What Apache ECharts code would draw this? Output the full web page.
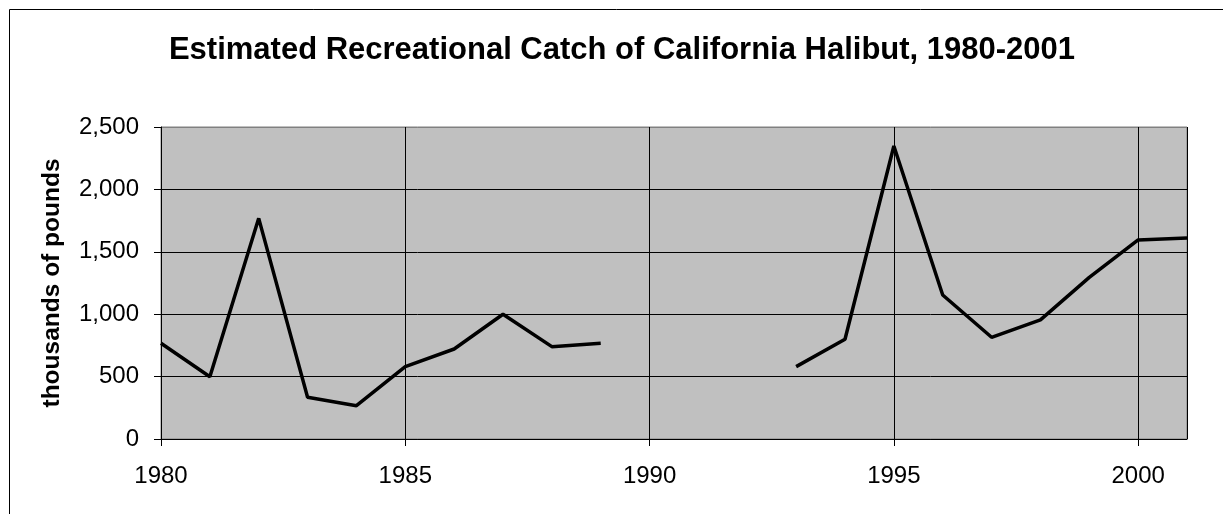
<!DOCTYPE html>
<html>
<head>
<meta charset="utf-8">
<script src="https://cdn.jsdelivr.net/npm/echarts@6/dist/echarts.min.js"></script>
<style>
html,body{margin:0;padding:0;background:#fff;}
#chart{width:1223px;height:514px;}
</style>
</head>
<body>
<div id="chart"></div>
<script>
var years = [1980,1981,1982,1983,1984,1985,1986,1987,1988,1989,1990,1991,1992,1993,1994,1995,1996,1997,1998,1999,2000,2001];
var catchValues = [767,499,1768,334,267,580,721,1000,740,767,null,null,null,580,799,2348,1154,815,954,1295,1595,1611];
var titleText = 'Estimated Recreational Catch of California Halibut, 1980-2001';
var yAxisName = 'thousands of pounds';

var FONT = '"Liberation Sans", Arial, sans-serif';
var seriesData = years.map(function(y, i){ return [y, catchValues[i]]; });

var chart = echarts.init(document.getElementById('chart'), null, {renderer:'canvas'});
chart.setOption({
  animation:false,
  backgroundColor:'#ffffff',
  title:{
    text:titleText,
    left:617, top:30, textAlign:'center',
    textStyle:{fontFamily:FONT, fontSize:31, fontWeight:'bold', color:'#000'}
  },
  graphic:[{
    type:'rect', silent:true, z:-1,
    shape:{x:9.5, y:9.5, width:1300, height:600},
    style:{fill:'none', stroke:'#000', lineWidth:1}
  }],
  grid:{
    left:161, right:36, top:127, bottom:75,
    show:true, backgroundColor:'#c0c0c0', borderColor:'#808080', borderWidth:1
  },
  xAxis:{
    type:'value', min:1980, max:2001, interval:5,
    axisLine:{show:true, onZero:false, lineStyle:{color:'#000', width:1}},
    axisTick:{show:true, inside:false, length:7, lineStyle:{color:'#000'}},
    axisLabel:{fontFamily:FONT, fontSize:24, color:'#000', margin:25,
      formatter:function(v){ return String(v); }},
    splitLine:{show:true, lineStyle:{color:'#000', width:1}}
  },
  yAxis:{
    type:'value', min:0, max:2500, interval:500,
    name:yAxisName, nameLocation:'middle', nameGap:96,
    nameTextStyle:{fontFamily:FONT, fontSize:24.5, fontWeight:'bold', color:'#000'},
    axisLine:{show:true, lineStyle:{color:'#000', width:1}},
    axisTick:{show:true, inside:false, length:7, lineStyle:{color:'#000'}},
    axisLabel:{fontFamily:FONT, fontSize:24, color:'#000', margin:22,
      formatter:function(v){ return v.toLocaleString('en-US'); }},
    splitLine:{show:true, lineStyle:{color:['#000','#000','#000','#000','#000','#808080'], width:1}}
  },
  series:[{
    type:'line',
    data:seriesData,
    connectNulls:false,
    showSymbol:false,
    symbol:'none',
    lineStyle:{color:'#000', width:3.5},
    z:5
  }]
});
</script>
</body>
</html>
